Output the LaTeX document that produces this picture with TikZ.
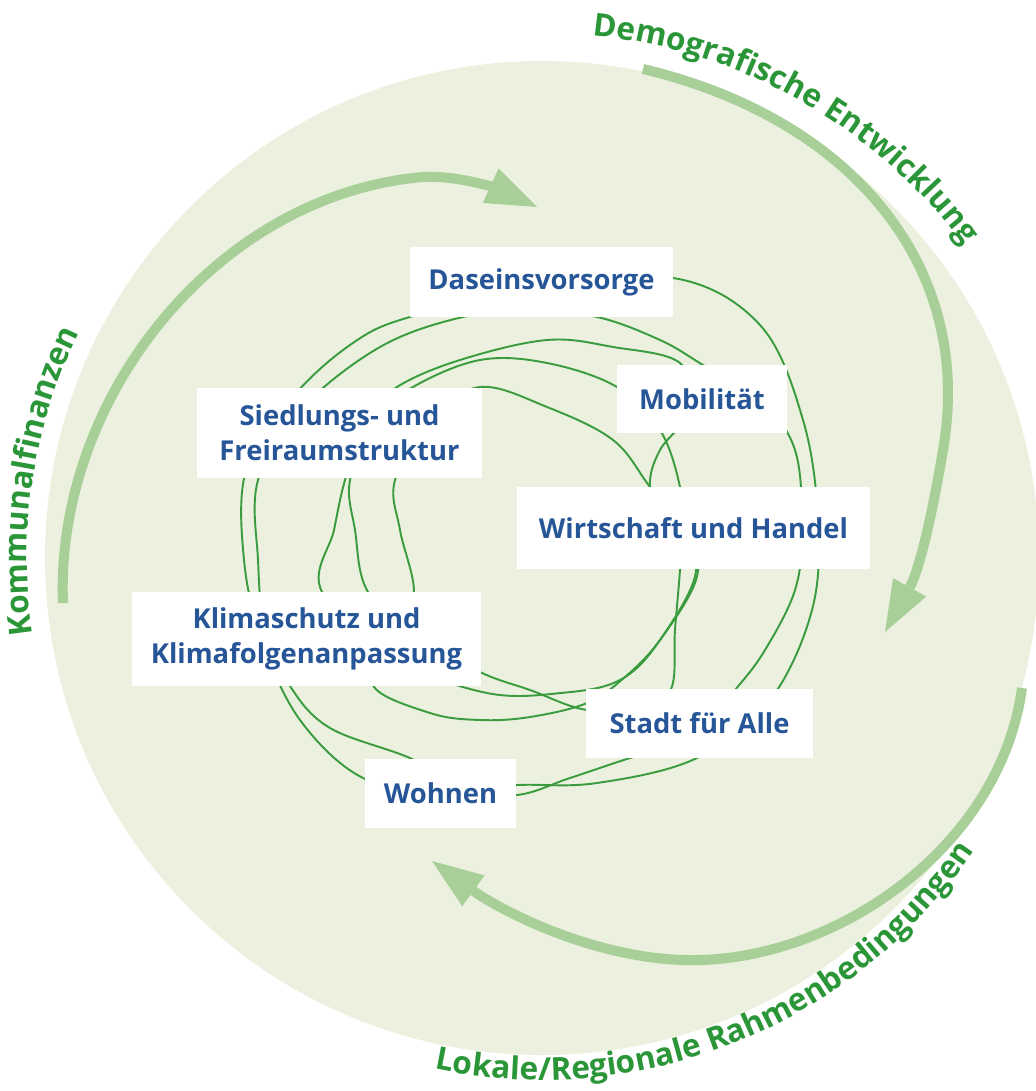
\documentclass[tikz,border=0pt]{standalone}
\usepackage{fontspec}
\setmainfont{Open Sans}
\usetikzlibrary{arrows.meta,decorations.text}
\definecolor{discgreen}{RGB}{235,241,222}
\definecolor{arrowgreen}{RGB}{169,207,153}
\definecolor{labelgreen}{RGB}{42,150,56}
\definecolor{scribblegreen}{RGB}{58,155,63}
\definecolor{topicblue}{RGB}{38,86,152}
\newcommand{\ringfont}{\bfseries\fontsize{18}{20}\selectfont}
\tikzset{
  disc/.style={fill=discgreen},
  topic/.style={fill=white,text=topicblue,font=\bfseries\fontsize{15.6}{20}\selectfont,align=center,inner sep=0pt},
  flow/.style={draw=arrowgreen,line width=0.2cm,-{Triangle[length=1.02cm,width=0.76cm,line width=0pt]}},
  scribble/.style={draw=scribblegreen,line width=1.1pt},
  ringtext/.style={decorate,decoration={text along path,text align=center,text color=labelgreen}}
}

\begin{document}
\begin{tikzpicture}[x=0.02cm,y=-0.02cm]
  \useasboundingbox (0,0) rectangle (1035,1091);
  \coordinate (centre) at (542,558);
  \fill[disc] (centre) circle[radius=497];

  % ring labels
  \path[ringtext,decoration={text={|\ringfont|Demografische Entwicklung}}]
    (centre) ++(-120:525) arc[start angle=-120,end angle=-1,radius=525];
  \path[ringtext,decoration={text={|\ringfont|Kommunalfinanzen}}]
    (centre) ++(140:515) arc[start angle=140,end angle=237.4,radius=515];
  \path[ringtext,decoration={text={|\ringfont|Lokale/Regionale Rahmenbedingungen}}]
    (centre) ++(125:522) arc[start angle=125,end angle=11,radius=522];

  % outer arrows
  \coordinate (komStart) at (63,603);
  \coordinate (komTip) at (537,207);
  \coordinate (demStart) at (643,69);
  \coordinate (demTip) at (885,632);
  \coordinate (lokStart) at (1022,688);
  \coordinate (lokTip) at (432,861);
  \draw[flow] (komStart) .. controls (55,400) and (215,195) .. (423,177)
    .. controls (460,175) and (500,190) .. (komTip);
  \draw[flow] (demStart) .. controls (850,118) and (975,265) .. (943,450)
    .. controls (936,492) and (922,565) .. (demTip);
  \draw[flow] (lokStart) .. controls (1000,850) and (830,965) .. (683,960)
    .. controls (590,957) and (500,910) .. (lokTip);

  % scribbled loops
  \draw[scribble] plot[smooth cycle,tension=0.6] coordinates {
    (673,278) (760,325) (803,420) (818,520) (812,610) (770,700) (697,758)
    (597,783) (517,785) (440,790) (363,778) (300,720) (262,640) (244,560)
    (246,470) (290,400) (350,345) (410,317) (540,290)};
  \draw[scribble] plot[smooth cycle,tension=0.6] coordinates {
    (597,317) (660,340) (703,365) (760,400) (795,450) (802,530) (795,590)
    (765,650) (735,690) (690,740) (630,758) (570,778) (517,795) (460,790)
    (412,759) (330,728) (290,686) (265,630) (258,560) (258,480) (300,410)
    (380,347) (463,317) (530,312)};
  \draw[scribble] plot[smooth cycle,tension=0.6] coordinates {
    (397,387) (460,360) (547,340) (613,347) (680,363) (690,410) (660,450)
    (650,487) (665,530) (696,570) (660,640) (620,680) (561,693) (487,693)
    (400,660) (322,592) (334,530) (345,480) (365,420)};
  \draw[scribble] plot[smooth cycle,tension=0.6] coordinates {
    (413,387) (480,360) (547,363) (617,387) (660,430) (680,487) (682,530)
    (680,570) (675,630) (671,689) (640,705) (587,710) (530,690) (482,673)
    (420,640) (368,592) (355,530) (350,480) (375,420)};
  \draw[scribble] plot[smooth cycle,tension=0.6] coordinates {
    (480,387) (547,407) (613,440) (650,487) (690,540) (696,580) (660,640)
    (625,677) (587,703) (530,717) (480,720) (430,713) (373,685) (400,640)
    (414,592) (400,530) (395,480) (430,420)};

  % topic boxes
  \node[topic,minimum width=5.26cm,minimum height=1.4cm] (daseinsvorsorge) at (541.5,282) {Daseinsvorsorge};
  \node[topic,minimum width=3.4cm,minimum height=1.36cm] (mobilitaet) at (702,399) {Mobilität};
  \node[topic,minimum width=5.7cm,minimum height=1.8cm] (siedlung) at (339.5,433) {Siedlungs- und\\Freiraumstruktur};
  \node[topic,minimum width=7.06cm,minimum height=1.64cm] (wirtschaft) at (693.5,528) {Wirtschaft und Handel};
  \node[topic,minimum width=6.98cm,minimum height=1.88cm] (klimaschutz) at (306.5,639) {Klimaschutz und\\Klimafolgenanpassung};
  \node[topic,minimum width=4.54cm,minimum height=1.38cm] (stadt) at (699.5,723.5) {Stadt für Alle};
  \node[topic,minimum width=3.02cm,minimum height=1.38cm] (wohnen) at (440.5,793.5) {Wohnen};
\end{tikzpicture}
\end{document}
